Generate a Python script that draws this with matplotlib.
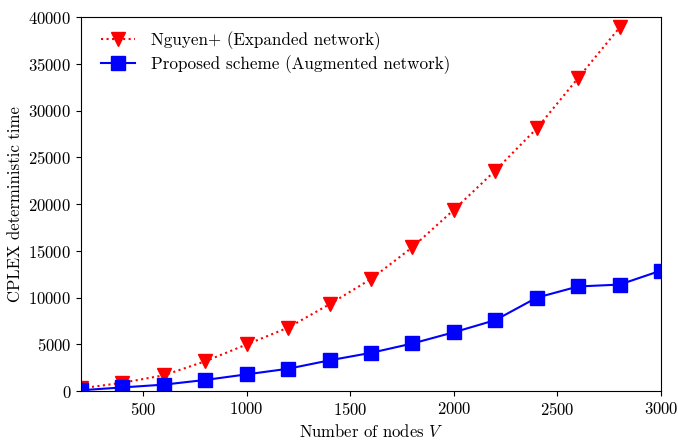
import matplotlib
matplotlib.use('Agg')
import matplotlib.pyplot as plt

plt.rcParams['font.family'] = 'serif'
plt.rcParams['font.serif'] = ['cmr10']
plt.rcParams['mathtext.fontset'] = 'cm'
plt.rcParams['axes.formatter.use_mathtext'] = True
plt.rcParams['font.size'] = 12

nodes = [200, 400, 600, 800, 1000, 1200, 1400, 1600, 1800, 2000, 2200, 2400, 2600, 2800, 3000]
nguyen = [300, 900, 1700, 3200, 5000, 6800, 9300, 12000, 15400, 19400, 23600, 28100, 33500, 38900]
proposed = [100, 400, 700, 1200, 1800, 2400, 3300, 4100, 5100, 6300, 7600, 10000, 11200, 11400, 12900]

fig = plt.figure(figsize=(6.78, 4.41), dpi=100)
ax = fig.add_axes([0.1195, 0.113, 0.8555, 0.848])

ax.plot(nodes[:len(nguyen)], nguyen, ':', color='red', marker='v', markersize=10,
        label='Nguyen+ (Expanded network)')
ax.plot(nodes, proposed, '-', color='blue', marker='s', markersize=10,
        label='Proposed scheme (Augmented network)')

ax.set_xlim(200, 3000)
ax.set_ylim(0, 40000)
ax.set_xticks([500, 1000, 1500, 2000, 2500, 3000])
ax.set_yticks(range(0, 40001, 5000))
ax.set_xlabel('Number of nodes $V$')
ax.set_ylabel('CPLEX deterministic time')
ax.legend(loc='upper left', bbox_to_anchor=(0.008, 1.004), frameon=False,
          fontsize=12.3, handletextpad=0.95, borderaxespad=0.5, labelspacing=0.32)

fig.savefig('out.png')
